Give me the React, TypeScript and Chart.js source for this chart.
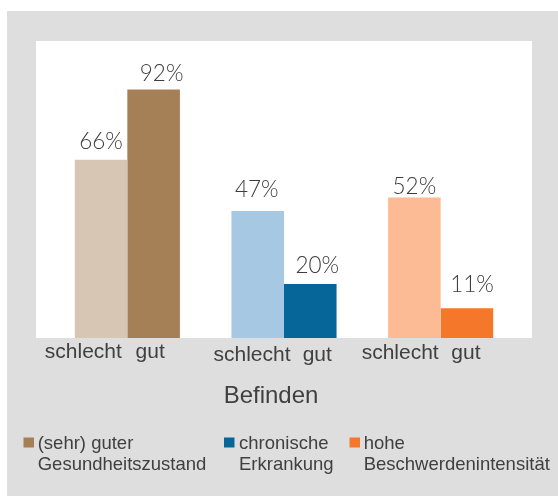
import React, { useEffect, useRef } from "react";
import { Chart, registerables } from "chart.js";

Chart.register(...registerables);

const groups = ["Gesundheitszustand", "chronische Erkrankung", "Beschwerdenintensität"];
const subLabels = ["schlecht", "gut"];
const schlechtValues = [66, 47, 52];
const gutValues = [92, 20, 11];
const axisTitle = "Befinden";
const legendLabels = [
  ["(sehr) guter", "Gesundheitszustand"],
  ["chronische", "Erkrankung"],
  ["hohe", "Beschwerdenintensität"],
];

const lightColors = ["#d8c6b4", "#a6c8e2", "#fcbb94"];
const darkColors = ["#a57f56", "#066699", "#f4772a"];
const textColor = "#3c3c3c";
const PCT_FONT = "Lato, 'Open Sans', sans-serif";
const TXT_FONT = "'Liberation Sans', Arial, sans-serif";

// layout nudges for the hand-placed labels (per dataset, per group)
const valueDx = [[0, -1, 0], [8, 7, 5]];
const valueGap = [[11, 14, 4], [9, 11, 16]];
const schlechtRightNudge = [-5.5, 6.5, -2];
const gutCenterNudge = [-3.5, 7, -1];
const subLabelDy = [19.7, 23, 21.3];
const legendMarkerX = [23.5, 224, 349.5];
const legendTextX = [37.7, 239, 363.7];

const decor = {
  id: "decor",
  beforeDraw(chart: any) {
    const ctx = chart.ctx;
    ctx.save();
    ctx.fillStyle = "#dedede";
    ctx.fillRect(7, 11, 551, 485);
    ctx.fillStyle = "#ffffff";
    ctx.fillRect(36, 41, 496, chart.chartArea.bottom - 41);
    ctx.restore();
  },
  afterDatasetsDraw(chart: any) {
    const ctx = chart.ctx;
    ctx.save();
    ctx.fillStyle = textColor;
    const m0 = chart.getDatasetMeta(0).data;
    const m1 = chart.getDatasetMeta(1).data;
    // value labels
    ctx.font = `300 22.5px ${PCT_FONT}`;
    ctx.textAlign = "center";
    ctx.textBaseline = "alphabetic";
    [m0, m1].forEach((meta: any[], di: number) => {
      meta.forEach((bar: any, i: number) => {
        const v = chart.data.datasets[di].data[i];
        ctx.fillText(`${v}%`, bar.x + valueDx[di][i], bar.y - valueGap[di][i]);
      });
    });
    // sub labels
    ctx.fillStyle = "#404040";
    ctx.font = `400 21px ${TXT_FONT}`;
    const bottom = chart.chartArea.bottom;
    m0.forEach((bar: any, i: number) => {
      const right = bar.x + bar.width / 2;
      const y = bottom + subLabelDy[i];
      ctx.textAlign = "right";
      ctx.fillText(subLabels[0], right + schlechtRightNudge[i], y);
      ctx.textAlign = "center";
      ctx.fillText(subLabels[1], m1[i].x + gutCenterNudge[i], y);
    });
    // axis title
    ctx.font = `400 24px ${TXT_FONT}`;
    ctx.textAlign = "center";
    ctx.fillText(axisTitle, 271, 403);
    // legend
    ctx.font = `400 18.5px ${TXT_FONT}`;
    ctx.textAlign = "left";
    legendLabels.forEach((lines, i) => {
      ctx.fillStyle = darkColors[i];
      ctx.fillRect(legendMarkerX[i], 437.5, 10.5, 10);
      ctx.fillStyle = "#404040";
      ctx.fillText(lines[0], legendTextX[i], 448.5);
      ctx.fillText(lines[1], legendTextX[i], 469.5);
    });
    ctx.restore();
  },
};

export default function App() {
  const ref = useRef<HTMLCanvasElement>(null);
  useEffect(() => {
    const chart = new Chart(ref.current as HTMLCanvasElement, {
      type: "bar",
      data: {
        labels: groups,
        datasets: [
          { label: subLabels[0], data: schlechtValues, backgroundColor: lightColors },
          { label: subLabels[1], data: gutValues, backgroundColor: darkColors },
        ],
      },
      options: {
        animation: false,
        responsive: false,
        maintainAspectRatio: false,
        devicePixelRatio: 1,
        layout: { padding: { left: 49, right: 39, top: 41, bottom: 158 } },
        datasets: { bar: { categoryPercentage: 0.671, barPercentage: 1 } },
        scales: {
          x: { display: false },
          y: { display: false, min: 0, max: 110 },
        },
        plugins: { legend: { display: false }, tooltip: { enabled: false } },
      } as any,
      plugins: [decor],
    });
    return () => chart.destroy();
  }, []);
  return (
    <div style={{ position: "absolute", left: 0, top: 0, width: 558, height: 496 }}>
      <canvas ref={ref} width={558} height={496} style={{ display: "block" }} />
    </div>
  );
}
